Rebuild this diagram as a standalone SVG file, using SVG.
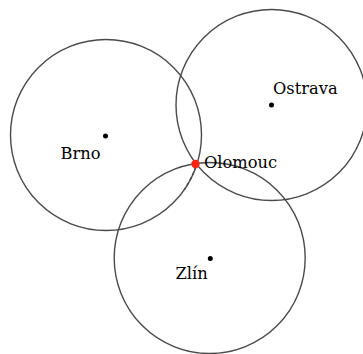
<svg xmlns="http://www.w3.org/2000/svg" width="363" height="354" viewBox="0 0 363 354">
<style>
.c{fill:none;stroke:#4a4a4a;stroke-width:1.4}
.d{fill:#000}
.t{font-family:"DejaVu Serif","Liberation Serif",serif;font-size:16.3px;fill:#000}
</style>
<rect width="363" height="354" fill="#fff"/>
<g id="connectors">
<path d="M196,166 A95,95 0 0 1 184,190" fill="none" stroke="#223" stroke-width="1.3" stroke-dasharray="4,2"/>
</g>
<g id="brno"><circle class="c" cx="106" cy="135" r="95.5"/><circle class="d" cx="105.5" cy="136" r="2.5"/><text class="t" x="60.5" y="159">Brno</text></g>
<g id="ostrava"><circle class="c" cx="271.5" cy="105" r="95.5"/><circle class="d" cx="271.5" cy="105" r="2.5"/><text class="t" x="273" y="94">Ostrava</text></g>
<g id="zlin"><circle class="c" cx="209.7" cy="258" r="95.5"/><circle class="d" cx="210.3" cy="258.5" r="2.5"/><text class="t" x="175.5" y="279">Zlín</text></g>
<g id="olomouc"><circle cx="195.5" cy="164" r="4.2" fill="#f21"/><text class="t" x="204" y="168">Olomouc</text></g>
</svg>
